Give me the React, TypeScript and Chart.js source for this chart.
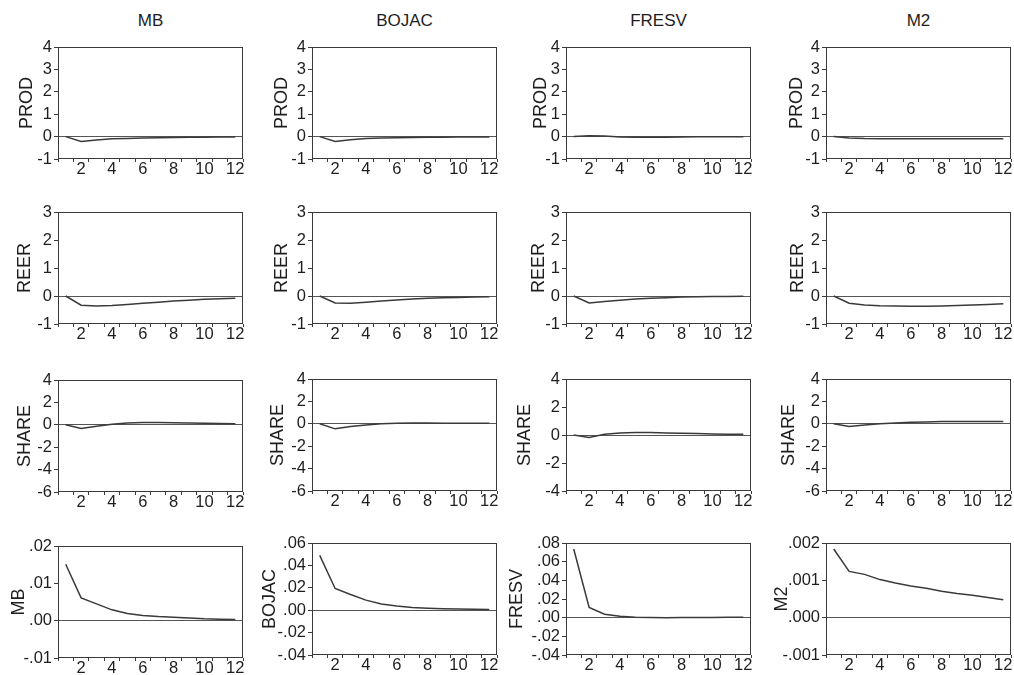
import React, { useEffect, useRef } from 'react';
import { Chart, registerables } from 'chart.js';

Chart.register(...registerables);

// ---------- data ----------
const periods = ['1', '2', '3', '4', '5', '6', '7', '8', '9', '10', '11', '12'];
const impulseNames = ['MB', 'BOJAC', 'FRESV', 'M2'];
const responseNames = ['PROD', 'REER', 'SHARE'];

// response of PROD
const prodMB = [0, -0.22, -0.15, -0.1, -0.08, -0.06, -0.05, -0.04, -0.03, -0.03, -0.02, -0.02];
const prodBOJAC = [0, -0.22, -0.14, -0.09, -0.06, -0.05, -0.04, -0.03, -0.03, -0.02, -0.02, -0.02];
const prodFRESV = [0, 0.04, 0.03, -0.02, -0.03, -0.03, -0.03, -0.02, -0.01, -0.01, -0.01, -0.01];
const prodM2 = [0, -0.06, -0.09, -0.1, -0.1, -0.1, -0.1, -0.1, -0.1, -0.1, -0.1, -0.1];

// response of REER
const reerMB = [0, -0.33, -0.36, -0.34, -0.3, -0.26, -0.22, -0.18, -0.15, -0.12, -0.1, -0.08];
const reerBOJAC = [0, -0.25, -0.26, -0.22, -0.18, -0.14, -0.11, -0.08, -0.06, -0.05, -0.04, -0.03];
const reerFRESV = [0, -0.25, -0.2, -0.15, -0.11, -0.08, -0.06, -0.04, -0.03, -0.02, -0.02, -0.01];
const reerM2 = [0, -0.26, -0.32, -0.35, -0.36, -0.37, -0.37, -0.36, -0.34, -0.32, -0.3, -0.28];

// response of SHARE
const shareMB = [0, -0.33, -0.12, 0.05, 0.15, 0.2, 0.2, 0.18, 0.16, 0.13, 0.11, 0.1];
const shareBOJAC = [0, -0.45, -0.25, -0.1, 0, 0.05, 0.07, 0.07, 0.06, 0.05, 0.05, 0.04];
const shareFRESV = [0, -0.17, 0.05, 0.15, 0.18, 0.17, 0.15, 0.12, 0.1, 0.08, 0.06, 0.05];
const shareM2 = [0, -0.25, -0.1, 0, 0.08, 0.13, 0.17, 0.2, 0.2, 0.2, 0.2, 0.2];

// own responses
const mbMB = [0.0151, 0.0061, 0.0045, 0.0029, 0.0019, 0.0014, 0.0011, 0.0009, 0.0007, 0.0005, 0.0004, 0.0003];
const bojacBOJAC = [0.049, 0.0194, 0.014, 0.009, 0.0055, 0.0038, 0.0025, 0.0018, 0.0013, 0.001, 0.0008, 0.0006];
const fresvFRESV = [0.0736, 0.011, 0.0036, 0.0015, 0.0005, 0.0001, 0.0, 0.0002, 0.0003, 0.0003, 0.0004, 0.0004];
const m2M2 = [0.00184, 0.00124, 0.00116, 0.00102, 0.00093, 0.00085, 0.00079, 0.00071, 0.00065, 0.0006, 0.00054, 0.00048];

// y tick values and labels
const prodTicks = [-1, 0, 1, 2, 3, 4];
const prodTickLabels = ['-1', '0', '1', '2', '3', '4'];
const reerTicks = [-1, 0, 1, 2, 3];
const reerTickLabels = ['-1', '0', '1', '2', '3'];
const shareTicksWide = [-6, -4, -2, 0, 2, 4];
const shareTickLabelsWide = ['-6', '-4', '-2', '0', '2', '4'];
const shareTicksNarrow = [-4, -2, 0, 2, 4];
const shareTickLabelsNarrow = ['-4', '-2', '0', '2', '4'];
const mbTicks = [-0.01, 0, 0.01, 0.02];
const mbTickLabels = ['-.01', '.00', '.01', '.02'];
const bojacTicks = [-0.04, -0.02, 0, 0.02, 0.04, 0.06];
const bojacTickLabels = ['-.04', '-.02', '.00', '.02', '.04', '.06'];
const fresvTicks = [-0.04, -0.02, 0, 0.02, 0.04, 0.06, 0.08];
const fresvTickLabels = ['-.04', '-.02', '.00', '.02', '.04', '.06', '.08'];
const m2Ticks = [-0.001, 0, 0.001, 0.002];
const m2TickLabels = ['-.001', '.000', '.001', '.002'];

// ---------- layout (positions / styles) ----------
const FONT = '"Liberation Sans", Arial, Helvetica, sans-serif';
const TEXT = '#1e1e1e';
const LINE = '#3a3a3a';
const TICK_SIZE = 16.5;
const YTITLE_SIZE = 18;
const colLeft = [58, 312, 566, 826];
const rowTop = [47, 212, 379, 543];
const topFix: Record<string, number> = { '2-0': 380, '3-0': 546 };
const plotW = 185;
const plotH = 112;
const M_L = 66, M_T = 12, M_R = 10, M_B = 26;
const titleGap = [
  [30.7, 30, 25, 29],
  [32.7, 30, 26.7, 28],
  [32.7, 34, 41, 37],
  [39.4, 41.7, 48.7, 44.3],
];

type PanelCfg = {
  yTitle: string;
  data: number[];
  ticks: number[];
  tickLabels: string[];
};

const panels: PanelCfg[][] = [
  [
    { yTitle: responseNames[0], data: prodMB, ticks: prodTicks, tickLabels: prodTickLabels },
    { yTitle: responseNames[0], data: prodBOJAC, ticks: prodTicks, tickLabels: prodTickLabels },
    { yTitle: responseNames[0], data: prodFRESV, ticks: prodTicks, tickLabels: prodTickLabels },
    { yTitle: responseNames[0], data: prodM2, ticks: prodTicks, tickLabels: prodTickLabels },
  ],
  [
    { yTitle: responseNames[1], data: reerMB, ticks: reerTicks, tickLabels: reerTickLabels },
    { yTitle: responseNames[1], data: reerBOJAC, ticks: reerTicks, tickLabels: reerTickLabels },
    { yTitle: responseNames[1], data: reerFRESV, ticks: reerTicks, tickLabels: reerTickLabels },
    { yTitle: responseNames[1], data: reerM2, ticks: reerTicks, tickLabels: reerTickLabels },
  ],
  [
    { yTitle: responseNames[2], data: shareMB, ticks: shareTicksWide, tickLabels: shareTickLabelsWide },
    { yTitle: responseNames[2], data: shareBOJAC, ticks: shareTicksWide, tickLabels: shareTickLabelsWide },
    { yTitle: responseNames[2], data: shareFRESV, ticks: shareTicksNarrow, tickLabels: shareTickLabelsNarrow },
    { yTitle: responseNames[2], data: shareM2, ticks: shareTicksWide, tickLabels: shareTickLabelsWide },
  ],
  [
    { yTitle: impulseNames[0], data: mbMB, ticks: mbTicks, tickLabels: mbTickLabels },
    { yTitle: impulseNames[1], data: bojacBOJAC, ticks: bojacTicks, tickLabels: bojacTickLabels },
    { yTitle: impulseNames[2], data: fresvFRESV, ticks: fresvTicks, tickLabels: fresvTickLabels },
    { yTitle: impulseNames[3], data: m2M2, ticks: m2Ticks, tickLabels: m2TickLabels },
  ],
];

const boxPlugin = {
  id: 'plotBox',
  afterDraw(chart: any) {
    const { ctx, chartArea } = chart;
    ctx.save();
    ctx.strokeStyle = LINE;
    ctx.lineWidth = 1;
    const l = Math.round(chartArea.left) + 0.5;
    const t = Math.round(chartArea.top) + 0.5;
    const r = Math.round(chartArea.right) - 0.5;
    const b = Math.round(chartArea.bottom) - 0.5;
    ctx.strokeRect(l, t, r - l, b - t);
    ctx.restore();
  },
};

function Panel({ cfg, gap, left, top }: { cfg: PanelCfg; gap: number; left: number; top: number }) {
  const ref = useRef<HTMLCanvasElement | null>(null);
  useEffect(() => {
    if (!ref.current) return;
    const yMin = cfg.ticks[0];
    const yMax = cfg.ticks[cfg.ticks.length - 1];
    const chart = new Chart(ref.current, {
      type: 'line',
      data: {
        labels: periods,
        datasets: [
          {
            data: cfg.data,
            borderColor: LINE,
            borderWidth: 1.5,
            pointRadius: 0,
            tension: 0,
            fill: false,
          },
        ],
      },
      options: {
        animation: false,
        responsive: false,
        events: [],
        layout: { padding: { top: M_T, right: M_R, left: 0, bottom: 0 } },
        plugins: {
          legend: { display: false },
          tooltip: { enabled: false },
          title: { display: false },
        },
        scales: {
          x: {
            type: 'category',
            offset: true,
            grid: {
              offset: true,
              drawOnChartArea: false,
              drawTicks: true,
              tickLength: 3,
              color: LINE,
              lineWidth: 1,
            },
            border: { display: false },
            ticks: {
              autoSkip: false,
              maxRotation: 0,
              minRotation: 0,
              padding: -2,
              color: TEXT,
              font: { family: FONT, size: TICK_SIZE },
              callback: (_v: any, i: number) => (i % 2 === 1 ? periods[i] : ''),
            },
            afterFit: (s: any) => {
              s.height = M_B;
            },
          },
          y: {
            type: 'linear',
            min: yMin,
            max: yMax,
            afterBuildTicks: (s: any) => {
              s.ticks = cfg.ticks.map((v) => ({ value: v }));
            },
            grid: {
              drawTicks: true,
              tickLength: 4,
              tickColor: LINE,
              lineWidth: 1,
              color: (c: any) =>
                c.tick && Math.abs(c.tick.value) < 1e-12 ? '#555555' : 'rgba(0,0,0,0)',
            },
            border: { display: false },
            ticks: {
              autoSkip: false,
              padding: 2,
              color: TEXT,
              font: { family: FONT, size: TICK_SIZE },
              callback: (_v: any, i: number) => cfg.tickLabels[i],
            },
            title: {
              display: true,
              text: cfg.yTitle,
              color: TEXT,
              font: { family: FONT, size: YTITLE_SIZE },
              padding: { top: Math.max(0, M_L - gap - YTITLE_SIZE * 0.6), bottom: 0 },
            },
            afterFit: (s: any) => {
              s.width = M_L;
            },
          },
        },
      },
      plugins: [boxPlugin],
    } as any);
    return () => chart.destroy();
  }, [cfg, gap]);
  const w = M_L + plotW + M_R;
  const h = M_T + plotH + M_B;
  return (
    <canvas
      ref={ref}
      width={w}
      height={h}
      style={{ position: 'absolute', left: left - M_L, top: top - M_T, width: w, height: h }}
    />
  );
}

export default function App() {
  const items: React.ReactNode[] = [];
  panels.forEach((row, r) => {
    row.forEach((cfg, c) => {
      const key = `${r}-${c}`;
      const top = topFix[key] !== undefined ? topFix[key] : rowTop[r];
      items.push(<Panel key={key} cfg={cfg} gap={titleGap[r][c]} left={colLeft[c]} top={top} />);
    });
  });
  return (
    <div
      style={{
        position: 'absolute',
        left: 0,
        top: 0,
        width: 1014,
        height: 675,
        overflow: 'hidden',
        background: '#ffffff',
      }}
    >
      {impulseNames.map((name, c) => (
        <div
          key={name}
          style={{
            position: 'absolute',
            left: colLeft[c],
            top: 11,
            width: plotW,
            textAlign: 'center',
            fontFamily: FONT,
            fontSize: 17,
            lineHeight: '20px',
            color: TEXT,
          }}
        >
          {name}
        </div>
      ))}
      {items}
    </div>
  );
}
